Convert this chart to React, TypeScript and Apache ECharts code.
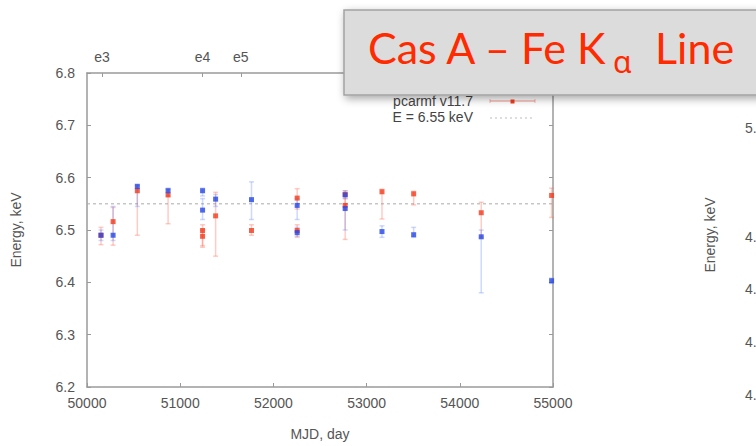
import React, { useEffect, useRef } from 'react';
import * as echarts from 'echarts';

// ---- data ----
const epochMJD = [50160, 51240, 51650];
const epochLabels = ['e3', 'e4', 'e5'];
const refEnergy = 6.55;

const obsMJD = [50150, 50280, 50540, 50870, 51240, 51240, 51380, 51765, 52255, 52255, 52770, 52770, 53165, 53505, 54230, 54985];

const redE = [6.49, 6.516, 6.575, 6.567, 6.499, 6.488, 6.527, 6.499, 6.561, 6.499, 6.568, 6.547, 6.573, 6.569, 6.533, 6.566];
const redLow = [6.472, 6.471, 6.49, 6.512, 6.47, 6.467, 6.45, 6.49, 6.54, 6.486, 6.54, 6.482, 6.521, 6.548, 6.486, 6.524];
const redHigh = [6.505, 6.543, 6.585, 6.578, 6.51, 6.5, 6.572, 6.51, 6.579, 6.51, 6.575, 6.56, 6.578, 6.574, 6.553, 6.58];

const blueE = [6.49, 6.49, 6.583, 6.575, 6.575, 6.538, 6.559, 6.558, 6.547, 6.495, 6.567, 6.541, 6.497, 6.491, 6.487, 6.403];
const blueLow = [6.48, 6.48, 6.545, 6.565, 6.565, 6.52, 6.545, 6.52, 6.52, 6.488, 6.56, 6.5, 6.486, 6.486, 6.38, 6.398];
const blueHigh = [6.5, 6.545, 6.588, 6.58, 6.58, 6.56, 6.568, 6.592, 6.56, 6.505, 6.575, 6.55, 6.508, 6.505, 6.5, 6.408];

const legendNames = ['pcarmf v11.7', 'E = 6.55 keV'];
const titleParts = ['Cas A – Fe K', 'α', 'Line'];
const sideLabels = ['5.', '4.', '4.', '4.', '4.'];

const RED = '#f23a1c';
const RED_BAR = 'rgba(255,110,90,0.35)';
const BLUE = '#2546e6';
const BLUE_BAR = 'rgba(90,130,255,0.3)';
const AXIS = '#9a9a9a';
const TXT = '#555';
const FONT = '"Liberation Sans", Arial, sans-serif';

const errRender = (color: string) => (params: any, api: any) => {
  const x = api.value(0);
  const lo = api.coord([x, api.value(1)]);
  const hi = api.coord([x, api.value(2)]);
  const st = { stroke: color, lineWidth: 1.5 };
  return {
    type: 'group',
    children: [
      { type: 'line', shape: { x1: lo[0], y1: lo[1], x2: hi[0], y2: hi[1] }, style: st },
      { type: 'line', shape: { x1: lo[0] - 2.5, y1: lo[1], x2: lo[0] + 2.5, y2: lo[1] }, style: st },
      { type: 'line', shape: { x1: hi[0] - 2.5, y1: hi[1], x2: hi[0] + 2.5, y2: hi[1] }, style: st },
    ],
  };
};

export default function App() {
  const ref = useRef<HTMLDivElement>(null);
  useEffect(() => {
    if (!ref.current) return;
    const chart = echarts.init(ref.current, null, { renderer: 'svg' });
    const sidePos = [128, 237, 289, 342, 395];
    chart.setOption({
      animation: false,
      backgroundColor: '#fff',
      grid: { left: 87, right: 203, top: 73, bottom: 50, containLabel: false },
      xAxis: [
        {
          type: 'value', min: 50000, max: 55000, interval: 1000, position: 'bottom',
          name: 'MJD, day', nameLocation: 'middle', nameGap: 40,
          nameTextStyle: { color: TXT, fontSize: 14, fontFamily: FONT },
          axisLine: { show: true, lineStyle: { color: AXIS, width: 1.5 } },
          axisTick: { show: true, inside: true, length: 4, lineStyle: { color: AXIS } },
          axisLabel: { color: TXT, fontSize: 14, fontFamily: FONT, margin: 9, showMinLabel: true, showMaxLabel: true, formatter: (v: number) => String(v) },
          splitLine: { show: false },
        },
        {
          type: 'value', min: 50000, max: 55000, position: 'top',
          axisLine: { show: true, lineStyle: { color: AXIS, width: 1.5 } },
          axisTick: { show: true, inside: true, length: 4, customValues: epochMJD, lineStyle: { color: AXIS } },
          axisLabel: {
            color: TXT, fontSize: 14, fontFamily: FONT, margin: 9, customValues: epochMJD,
            formatter: (v: number) => epochLabels[epochMJD.indexOf(v)] ?? '',
          },
          splitLine: { show: false },
        },
      ],
      yAxis: [
        {
          type: 'value', min: 6.2, max: 6.8, interval: 0.1, position: 'left',
          name: 'Energy, keV', nameLocation: 'middle', nameGap: 64,
          nameTextStyle: { color: TXT, fontSize: 14, fontFamily: FONT },
          axisLine: { show: true, lineStyle: { color: AXIS, width: 1.5 } },
          axisTick: { show: true, inside: true, length: 4, lineStyle: { color: AXIS } },
          axisLabel: { color: TXT, fontSize: 14, fontFamily: FONT, margin: 12, formatter: (v: number) => v.toFixed(1) },
          splitLine: { show: false },
        },
        {
          type: 'value', min: 6.2, max: 6.8, interval: 0.1, position: 'right',
          axisLine: { show: true, lineStyle: { color: AXIS, width: 1.5 } },
          axisTick: { show: true, inside: true, length: 4, lineStyle: { color: AXIS } },
          axisLabel: { show: false },
          splitLine: { show: false },
        },
      ],
      series: [
        {
          type: 'line', name: legendNames[1], data: [[50000, refEnergy], [55000, refEnergy]],
          symbol: 'none', lineStyle: { color: '#aaa', width: 1, type: [3, 3] }, z: 1,
        },
        {
          type: 'custom', name: 'redErr', renderItem: errRender(RED_BAR),
          data: obsMJD.map((m, i) => [m, redLow[i], redHigh[i]]), encode: { x: 0, y: [1, 2] }, z: 2,
        },
        {
          type: 'custom', name: 'blueErr', renderItem: errRender(BLUE_BAR),
          data: obsMJD.map((m, i) => [m, blueLow[i], blueHigh[i]]), encode: { x: 0, y: [1, 2] }, z: 2,
        },
        {
          type: 'scatter', name: legendNames[0], symbol: 'rect', symbolSize: 5,
          itemStyle: { color: RED }, data: obsMJD.map((m, i) => [m, redE[i]]), z: 3,
        },
        {
          type: 'scatter', name: 'blue', symbol: 'rect', symbolSize: 5,
          itemStyle: { color: BLUE }, data: obsMJD.map((m, i) => [m, blueE[i]]), z: 4,
        },
      ],
      graphic: [
        // legend
        { type: 'text', x: 473, y: 101, z: 50, style: { text: legendNames[0], fill: '#444', font: `14px ${FONT}`, align: 'right', verticalAlign: 'middle' } },
        { type: 'text', x: 473, y: 117, z: 50, style: { text: legendNames[1], fill: '#444', font: `14px ${FONT}`, align: 'right', verticalAlign: 'middle' } },
        { type: 'line', z: 50, shape: { x1: 490, y1: 101, x2: 535, y2: 101 }, style: { stroke: 'rgba(240,80,60,0.6)', lineWidth: 1 } },
        { type: 'line', z: 50, shape: { x1: 490, y1: 99, x2: 490, y2: 103 }, style: { stroke: 'rgba(240,80,60,0.4)', lineWidth: 1 } },
        { type: 'line', z: 50, shape: { x1: 535, y1: 99, x2: 535, y2: 103 }, style: { stroke: 'rgba(240,80,60,0.4)', lineWidth: 1 } },
        { type: 'rect', z: 50, shape: { x: 510.5, y: 99.5, width: 4, height: 4 }, style: { fill: RED } },
        { type: 'line', z: 50, shape: { x1: 490, y1: 118, x2: 534, y2: 118 }, style: { stroke: '#bbb', lineWidth: 1, lineDash: [2, 3] } },
        // right partial chart
        {
          type: 'text', x: 710, y: 235, rotation: Math.PI / 2, z: 50,
          style: { text: 'Energy, keV', fill: TXT, font: `14px ${FONT}`, align: 'center', verticalAlign: 'middle' },
        },
        ...sideLabels.map((t, i) => ({
          type: 'text', x: 745, y: sidePos[i], z: 50,
          style: { text: t, fill: TXT, font: `14px ${FONT}`, align: 'left', verticalAlign: 'middle' },
        })),
        // title box
        {
          type: 'rect', z: 100, shape: { x: 344, y: 10, width: 430, height: 85 },
          style: { fill: '#dcdcdc', stroke: '#a3a3a3', lineWidth: 1.5, shadowBlur: 8, shadowOffsetX: 2, shadowOffsetY: 3, shadowColor: 'rgba(0,0,0,0.35)' },
        },
        { type: 'text', z: 101, x: 368, y: 47, style: { text: titleParts[0], fill: '#ff2a00', font: `43px Lato, "Noto Sans", sans-serif`, align: 'left', verticalAlign: 'middle' } },
        { type: 'text', z: 101, x: 613, y: 61, style: { text: titleParts[1], fill: '#ff2a00', font: `30px "Noto Sans", sans-serif`, align: 'left', verticalAlign: 'middle' } },
        { type: 'text', z: 101, x: 655, y: 47, style: { text: titleParts[2], fill: '#ff2a00', font: `43px Lato, "Noto Sans", sans-serif`, align: 'left', verticalAlign: 'middle' } },
      ],
    });
    return () => chart.dispose();
  }, []);
  return <div ref={ref} style={{ position: 'absolute', left: 0, top: 0, width: 756, height: 446 }} />;
}
